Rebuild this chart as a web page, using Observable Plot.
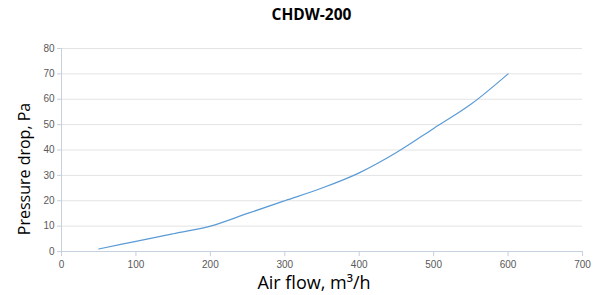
<!DOCTYPE html>
<html><head><meta charset="utf-8">
<script src="https://cdn.jsdelivr.net/npm/d3@7"></script>
<script src="https://cdn.jsdelivr.net/npm/@observablehq/plot@0.6"></script>
<style>body{margin:0;background:#fff;} svg{display:block;}</style>
</head><body><div id="chart"></div>
<script>
const title = "CHDW-200";
const xLabel = "Air flow, m³/h";
const yLabel = "Pressure drop, Pa";
const airflow = [50, 100, 150, 200, 250, 300, 350, 400, 450, 500, 550, 600];
const pressure = [1, 4, 7, 10, 15, 20, 25, 31, 39, 48.5, 58, 70];
const xTicks = [0, 100, 200, 300, 400, 500, 600, 700];
const yTicks = [0, 10, 20, 30, 40, 50, 60, 70, 80];

const data = airflow.map((x, i) => ({x, y: pressure[i]}));
const axisColor = "#c6d0de";
const font = "Open Sans, sans-serif";

const chart = Plot.plot({
  width: 598, height: 295,
  marginTop: 48, marginBottom: 44, marginLeft: 61, marginRight: 16,
  style: {fontFamily: "Liberation Sans, Arial, sans-serif", fontSize: "10px", color: "#595959", background: "#fff"},
  x: {domain: [0, 700], ticks: xTicks, label: null},
  y: {domain: [0, 80], ticks: yTicks, label: null},
  marks: [
    Plot.gridY(yTicks, {stroke: "#e3e3e3", strokeOpacity: 1, strokeWidth: 1}),
    Plot.ruleX([0], {stroke: axisColor}),
    Plot.ruleY([0], {stroke: axisColor}),
    Plot.axisY({ticks: yTicks, tickSize: 4, tickPadding: 3, stroke: axisColor, fill: "#595959", label: null}),
    Plot.axisX({ticks: xTicks, tickSize: 5, tickPadding: 4, stroke: axisColor, fill: "#595959", label: null}),
    Plot.line(data, {x: "x", y: "y", stroke: "#5b9bd5", strokeWidth: 1.2, curve: "catmull-rom"}),
    Plot.text([title], {frameAnchor: "top", lineAnchor: "middle", dy: -33, dx: -10.5, fontSize: 15.5, fontWeight: "bold", fontFamily: font, fill: "#000"}),
    Plot.text([xLabel], {frameAnchor: "bottom", lineAnchor: "middle", dy: 32, dx: -8, fontSize: 18, fontFamily: font, fill: "#000"}),
    Plot.text([yLabel], {frameAnchor: "left", lineAnchor: "middle", textAnchor: "middle", dx: -37, dy: 19, rotate: -90, fontSize: 16, fontFamily: font, fill: "#000"})
  ]
});
document.getElementById("chart").appendChild(chart);
</script></body></html>
